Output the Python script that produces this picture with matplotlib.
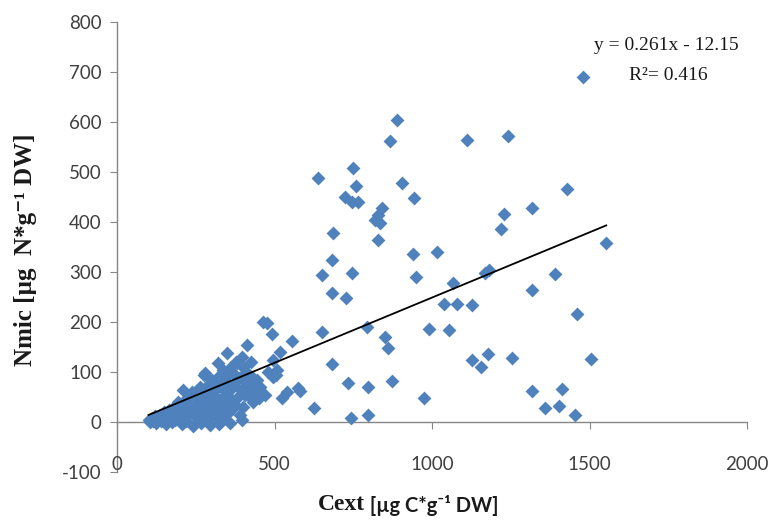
import matplotlib
matplotlib.use('Agg')
import matplotlib.pyplot as plt

# ---- data ----
cext = [
    # dense low cluster
    100, 105, 110, 115, 120, 125, 130, 135, 140, 145, 150, 155, 160, 165, 170, 175,
    180, 185, 190, 195, 200, 205, 210, 212, 215, 220, 225, 230, 235, 238, 240, 245,
    250, 255, 258, 262, 265, 268, 270, 272, 275, 278, 280, 282, 285, 288, 290, 292,
    295, 298, 300, 302, 305, 308, 310, 311, 315, 318, 321, 322, 325, 328, 330, 333,
    335, 337, 340, 342, 345, 349, 350, 352, 355, 359, 360, 362, 365, 368, 368, 370,
    375, 378, 381, 384, 388, 390, 393, 397, 397, 400, 400, 405, 408, 410, 413, 413,
    418, 422, 425, 429, 432, 436, 440, 445, 450, 454, 464, 476, 470, 480, 493, 496,
    495, 505, 508, 518, 525, 540, 556, 581, 575,
    # scattered points
    1480, 889, 1242, 1112, 867, 750, 759, 638, 724, 747, 766, 905, 943, 1429, 1318,
    842, 829, 820, 835, 829, 1229, 1220, 686, 940, 1017, 1553, 651, 683, 683, 747,
    727, 950, 1067, 1169, 1182, 1391, 1318, 1039, 1080, 1128, 1461, 794, 991, 1055,
    651, 851, 861, 683, 1128, 1156, 1179, 1255, 1506, 734, 797, 874, 975, 1318, 1414,
    1360, 1404, 1455, 743, 797, 626,
]
nmic = [
    5, 0, 8, 3, 12, -2, 6, 15, 2, 10, 20, -3, 8, 25, 14, 0,
    30, 5, 18, 40, 10, -4, 64, 28, 45, 2, 15, 35, 55, 60, -8, 22,
    48, 8, 40, 30, 70, -2, 15, 50, 95, 25, 98, 60, 5, 35, 75, 45,
    -5, 18, 85, 55, 78, 28, 65, 34, 10, 48, 118, 90, -3, 22, 70, 30,
    105, 50, 12, 80, 40, 138, 60, 95, 20, 64, -2, 110, 45, 28, 98, 75,
    35, 120, 118, 50, 88, 15, 65, 4, 130, 110, 30, 55, 80, 100, 154, 98,
    70, 50, 120, 90, 40, 60, 75, 84, 48, 70, 200, 198, 55, 100, 176, 124,
    90, 94, 105, 140, 48, 60, 162, 62, 68,
    690, 604, 572, 564, 563, 508, 472, 488, 450, 440, 440, 478, 448, 466, 428,
    428, 414, 404, 398, 364, 416, 386, 378, 336, 340, 358, 294, 324, 258, 298,
    248, 290, 278, 298, 304, 296, 264, 236, 236, 234, 216, 190, 186, 184,
    180, 170, 148, 116, 124, 110, 136, 128, 126, 78, 70, 82, 48, 62, 66,
    28, 32, 14, 8, 14, 28,
]
slope = 0.261
intercept = -12.15
r_squared = 0.416
xticks = [0, 500, 1000, 1500, 2000]
yticks = [-100, 0, 100, 200, 300, 400, 500, 600, 700, 800]

AXIS_GRAY = '#868686'
TEXT_GRAY = '#404040'
BLUE = '#4F81BD'
SANS = ['Lato', 'DejaVu Sans']
SERIF = ['Liberation Serif', 'DejaVu Serif']

fig = plt.figure(figsize=(7.75, 5.24), dpi=100)
ax = fig.add_axes([117 / 775, 1 - 472 / 524, 630 / 775, 450 / 524])

ax.scatter(cext, nmic, marker='D', s=50, color=BLUE, linewidths=0, zorder=3)
xs = [min(cext), max(cext)]
ax.plot(xs, [slope * x + intercept for x in xs], color='black', lw=1.3, zorder=4)

ax.set_xlim(0, 2000)
ax.set_ylim(-100, 800)
for s in ['top', 'right']:
    ax.spines[s].set_visible(False)
ax.spines['bottom'].set_position(('data', 0))
for s in ['left', 'bottom']:
    ax.spines[s].set_color(AXIS_GRAY)
    ax.spines[s].set_linewidth(1.0)

ax.set_xticks(xticks)
ax.set_xticklabels([])
ax.tick_params(axis='x', direction='out', length=5, color=AXIS_GRAY)
ax.set_yticks(yticks)
ax.set_yticklabels([str(v) for v in yticks])
ax.tick_params(axis='y', direction='out', length=5, color=AXIS_GRAY,
               labelsize=13.5, labelcolor=TEXT_GRAY, pad=6)
for lab in ax.get_yticklabels():
    lab.set_family(SANS)

for xt in xticks:
    ax.text(xt, -102, str(xt), ha='center', va='bottom', fontsize=13.5,
            color=TEXT_GRAY, family=SANS)

# regression annotation
fig.text(666 / 775, 1 - 46 / 524, 'y = %.3fx - %.2f' % (slope, -intercept),
         ha='center', va='center', fontsize=14, family=SERIF, color='#1a1a1a')
fig.text(668 / 775, 1 - 75 / 524, 'R²= %.3f' % r_squared,
         ha='center', va='center', fontsize=14, family=SERIF, color='#1a1a1a')

# axis titles
fig.text(26 / 775, 1 - 250 / 524, 'Nmic [µg  N*g⁻¹ DW]', rotation=90,
         ha='center', va='center', fontsize=18, fontweight='bold', family=SERIF,
         color='#1a1a1a')
t1 = fig.text(318 / 775, 1 - 505 / 524, 'Cext', ha='left', va='center',
              fontsize=17, fontweight='bold', family=SERIF, color='#1a1a1a')
ax.annotate(' [µg C*g⁻¹ DW]', xy=(1, 0), xycoords=t1, ha='left', va='bottom',
            fontsize=14.5, fontweight='bold', family=SANS, color='#1a1a1a')

fig.savefig('out.png', dpi=100)
